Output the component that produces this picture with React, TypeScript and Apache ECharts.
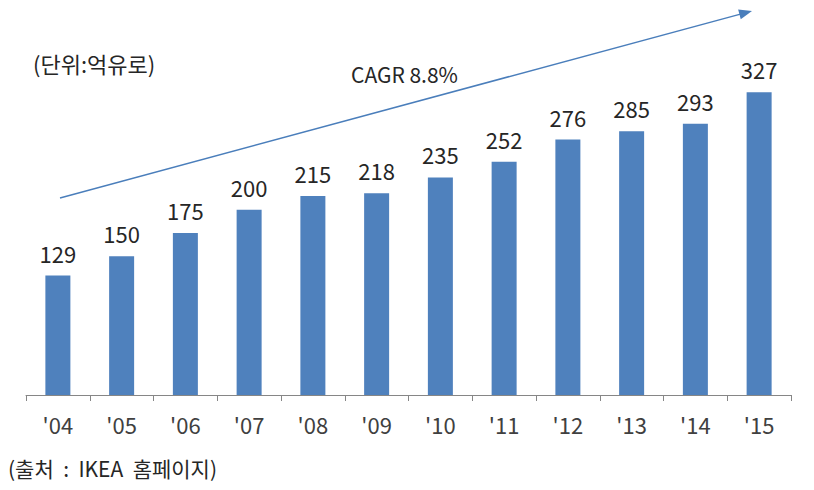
import React, { useEffect, useRef } from "react";
import * as echarts from "echarts";

const categories = ["'04", "'05", "'06", "'07", "'08", "'09", "'10", "'11", "'12", "'13", "'14", "'15"];
const sales = [129, 150, 175, 200, 215, 218, 235, 252, 276, 285, 293, 327];
const unitText = "(단위:억유로)";
const cagrText = "CAGR 8.8%";
const sourceText = "(출처  :  IKEA  홈페이지)";

const FONT = "'Noto Sans CJK KR', 'Noto Sans', sans-serif";

export default function App() {
  const ref = useRef<HTMLDivElement>(null);
  useEffect(() => {
    document.body.style.margin = "0";
    const chart = echarts.init(ref.current!, null, { renderer: "svg" });
    const sx = 60, sy = 198, tx = 752, ty = 11;
    const dx = tx - sx, dy = ty - sy;
    const len = Math.sqrt(dx * dx + dy * dy);
    const ux = dx / len, uy = dy / len;
    const nx = -uy, ny = ux;
    const headLen = 13, headW = 5;
    const bx = tx - headLen * ux, by = ty - headLen * uy;
    chart.setOption({
      animation: false,
      backgroundColor: "#ffffff",
      grid: { left: 26, right: 23, top: 71, bottom: 95, containLabel: false },
      xAxis: {
        type: "category",
        data: categories,
        axisLine: { show: true, lineStyle: { color: "#868686", width: 1 } },
        axisTick: { show: true, length: 6, lineStyle: { color: "#868686" } },
        axisLabel: { color: "#404040", fontSize: 22, fontFamily: FONT, margin: 18 },
      },
      yAxis: {
        type: "value",
        min: 0,
        max: 350,
        show: false,
        splitLine: { show: false },
      },
      series: [
        {
          type: "bar",
          data: sales,
          barWidth: 25,
          itemStyle: { color: "#4f81bd" },
          label: {
            show: true,
            position: "top",
            distance: 12,
            color: "#262626",
            fontSize: 22,
            fontFamily: FONT,
          },
        },
      ],
      graphic: [
        {
          type: "text",
          x: 33,
          y: 63,
          style: { text: unitText, fontSize: 22, fontFamily: FONT, fill: "#262626", verticalAlign: "middle" },
        },
        {
          type: "text",
          x: 351,
          y: 74,
          style: { text: cagrText, fontSize: 21, fontFamily: FONT, fill: "#262626", verticalAlign: "middle" },
        },
        {
          type: "text",
          x: 8,
          y: 468,
          style: { text: sourceText, fontSize: 21, fontFamily: FONT, fill: "#262626", verticalAlign: "middle" },
        },
        {
          type: "line",
          shape: { x1: sx, y1: sy, x2: bx + 2 * ux, y2: by + 2 * uy },
          style: { stroke: "#4a7ebb", lineWidth: 1.5 },
        },
        {
          type: "polygon",
          shape: {
            points: [
              [tx, ty],
              [bx + headW * nx, by + headW * ny],
              [bx - headW * nx, by - headW * ny],
            ],
          },
          style: { fill: "#4a7ebb" },
        },
      ],
    });
    return () => chart.dispose();
  }, []);
  return <div ref={ref} style={{ width: 814, height: 490, position: "absolute", left: 0, top: 0 }} />;
}
